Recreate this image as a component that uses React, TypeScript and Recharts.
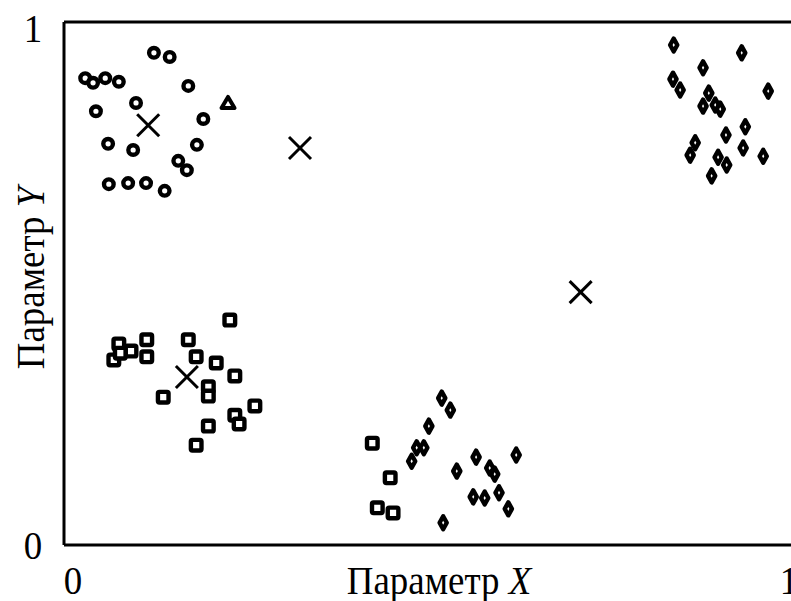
import { ScatterChart, Scatter, XAxis, YAxis, ReferenceLine } from 'recharts';

// cluster 1 (circles)
const circleX = [0.017, 0.028, 0.045, 0.064, 0.113, 0.135, 0.161, 0.032, 0.088, 0.182, 0.049, 0.084, 0.173, 0.147, 0.159, 0.050, 0.077, 0.102, 0.128];
const circleY = [0.903, 0.894, 0.903, 0.896, 0.952, 0.944, 0.888, 0.839, 0.855, 0.824, 0.776, 0.764, 0.774, 0.743, 0.725, 0.698, 0.700, 0.700, 0.685];

// single triangle point
const triX = [0.2165];
const triY = [0.855];

// cluster 2 (squares)
const squareX = [0.219, 0.064, 0.081, 0.057, 0.066, 0.103, 0.103, 0.161, 0.172, 0.200, 0.226, 0.126, 0.189, 0.189, 0.254, 0.226, 0.232, 0.189, 0.172, 0.418, 0.443, 0.425, 0.447];
const squareY = [0.435, 0.389, 0.375, 0.358, 0.371, 0.397, 0.364, 0.397, 0.364, 0.352, 0.327, 0.286, 0.306, 0.288, 0.269, 0.251, 0.234, 0.230, 0.193, 0.197, 0.130, 0.072, 0.062];

// clusters 3 and 4 (diamonds)
const diamondX = [0.515, 0.527, 0.497, 0.480, 0.490, 0.473, 0.536, 0.563, 0.582, 0.589, 0.619, 0.559, 0.575, 0.595, 0.608, 0.517,
  0.839, 0.934, 0.880, 0.838, 0.848, 0.971, 0.888, 0.880, 0.897, 0.904, 0.939, 0.912, 0.869, 0.862, 0.936, 0.964, 0.901, 0.913, 0.892];
const diamondY = [0.284, 0.261, 0.230, 0.188, 0.188, 0.162, 0.143, 0.170, 0.149, 0.137, 0.174, 0.093, 0.091, 0.101, 0.070, 0.043,
  0.967, 0.952, 0.923, 0.901, 0.880, 0.878, 0.874, 0.849, 0.851, 0.843, 0.809, 0.793, 0.778, 0.754, 0.768, 0.752, 0.750, 0.735, 0.714];

// centroids
const centerX = [0.105, 0.317, 0.159, 0.709];
const centerY = [0.812, 0.768, 0.325, 0.489];

const xTicks = [0, 1];
const yTicks = [0, 1];

const X_MIN = -0.0126;
const X_MAX = 1.0154;
const Y_MAX = 1.0116;

const zip = (xs: number[], ys: number[]) => xs.map((x, i) => ({ x, y: ys[i] }));

const circles = zip(circleX, circleY);
const tris = zip(triX, triY);
const squares = zip(squareX, squareY);
const diamonds = zip(diamondX, diamondY);
const centers = zip(centerX, centerY);

const FONT = '"Liberation Serif", "Times New Roman", serif';

const CircleMark = (p: any) => <circle cx={p.cx} cy={p.cy} r={4.8} fill="#fff" stroke="#000" strokeWidth={4.4} />;
const SquareMark = (p: any) => (
  <rect x={p.cx - 5.3} y={p.cy - 5.3} width={10.6} height={10.6} rx={1.5} fill="#fff" stroke="#000" strokeWidth={4.4} />
);
const DiamondMark = (p: any) => (
  <polygon
    points={`${p.cx},${p.cy - 6.5} ${p.cx + 3.6},${p.cy} ${p.cx},${p.cy + 6.5} ${p.cx - 3.6},${p.cy}`}
    fill="#fff" stroke="#000" strokeWidth={4.4} strokeLinejoin="round"
  />
);
const TriMark = (p: any) => (
  <polygon
    points={`${p.cx},${p.cy - 6} ${p.cx + 6.5},${p.cy + 5} ${p.cx - 6.5},${p.cy + 5}`}
    fill="#fff" stroke="#000" strokeWidth={4} strokeLinejoin="round"
  />
);
const CrossMark = (p: any) => (
  <g stroke="#000" strokeWidth={3}>
    <line x1={p.cx - 11} y1={p.cy - 11} x2={p.cx + 11} y2={p.cy + 11} />
    <line x1={p.cx - 11} y1={p.cy + 11} x2={p.cx + 11} y2={p.cy - 11} />
  </g>
);

// text in the reference is slightly narrow and tall
const SerifText = ({ x, y, rotate = 0, children }: any) => (
  <text
    x={0} y={0} transform={`translate(${x},${y}) rotate(${rotate}) scale(0.9,1)`}
    textAnchor="middle" fontFamily={FONT} fontSize={41} fill="#000"
  >
    {children}
  </text>
);

const XTick = (p: any) => <SerifText x={p.x} y={594}>{p.payload.value}</SerifText>;
const YTick = (p: any) => <SerifText x={33} y={p.y + 14}>{p.payload.value}</SerifText>;

const XLabel = () => (
  <SerifText x={439} y={594}>
    Параметр <tspan fontStyle="italic">X</tspan>
  </SerifText>
);
const YLabel = () => (
  <SerifText x={44} y={278} rotate={-90}>
    Параметр <tspan fontStyle="italic">Y</tspan>
  </SerifText>
);

export default function App() {
  return (
    <div style={{ position: 'absolute', left: 0, top: 0, width: 791, height: 601, overflow: 'hidden', background: '#fff' }}>
      <ScatterChart width={800} height={601} margin={{ top: 22, right: 0, bottom: 0, left: 0 }}>
        <XAxis
          type="number" dataKey="x" domain={[X_MIN, X_MAX]} ticks={xTicks} height={56}
          axisLine={{ stroke: '#000', strokeWidth: 3 }} tickLine={false} tick={<XTick />}
          label={{ content: <XLabel /> }} allowDataOverflow
        />
        <YAxis
          type="number" dataKey="y" domain={[0, Y_MAX]} ticks={yTicks} width={64}
          axisLine={{ stroke: '#000', strokeWidth: 3 }} tickLine={false} tick={<YTick />}
          label={{ content: <YLabel /> }} allowDataOverflow
        />
        <ReferenceLine y={Y_MAX} stroke="#000" strokeWidth={3} ifOverflow="visible" />
        <Scatter data={circles} shape={CircleMark} isAnimationActive={false} />
        <Scatter data={tris} shape={TriMark} isAnimationActive={false} />
        <Scatter data={squares} shape={SquareMark} isAnimationActive={false} />
        <Scatter data={diamonds} shape={DiamondMark} isAnimationActive={false} />
        <Scatter data={centers} shape={CrossMark} isAnimationActive={false} />
      </ScatterChart>
    </div>
  );
}
